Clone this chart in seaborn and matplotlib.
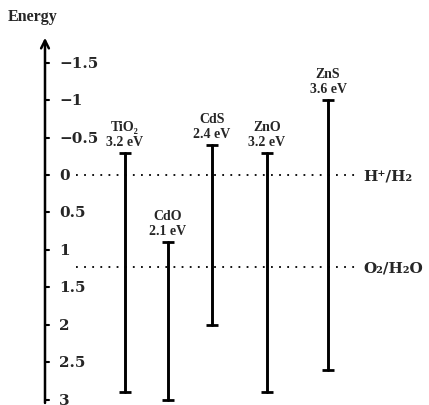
import matplotlib
matplotlib.use("Agg")
import matplotlib.pyplot as plt
import seaborn as sns
import pandas as pd

# Band-edge positions (eV) of common photocatalysts
materials = ["TiO₂", "CdO", "CdS", "ZnO", "ZnS"]
band_gap_labels = ["3.2 eV", "2.1 eV", "2.4 eV", "3.2 eV", "3.6 eV"]
conduction_band = [-0.3, 0.9, -0.4, -0.3, -1.0]
valence_band = [2.9, 3.0, 2.0, 2.9, 2.6]

# Redox potentials of water splitting
redox_names = ["H⁺/H₂", "O₂/H₂O"]
redox_levels = [0.0, 1.23]

energy_ticks = [-1.5, -1, -0.5, 0, 0.5, 1, 1.5, 2, 2.5, 3]
energy_tick_labels = ["−1.5", "−1", "−0.5", "0", "0.5", "1", "1.5", "2", "2.5", "3"]

# Horizontal layout (pixel-like x units)
x_pos = [125, 168, 212, 267, 328]
axis_x = 45

sns.set_theme(style="white")
plt.rcParams["font.family"] = ["Liberation Serif", "DejaVu Serif"]
plt.rcParams["font.weight"] = "bold"
wide_serif = ["DejaVu Serif"]

fig = plt.figure(figsize=(4.29, 4.06), dpi=100)
ax = fig.add_axes([0, 0, 1, 1])
ax.set_xlim(0, 429)
ax.set_ylim(3.067, -2.347)
ax.axis("off")

# Vertical bars spanning each band gap
rows = []
for m, x, cb, vb in zip(materials, x_pos, conduction_band, valence_band):
    rows.append({"material": m, "x": x, "energy": cb})
    rows.append({"material": m, "x": x, "energy": vb})
bands = pd.DataFrame(rows)
sns.lineplot(data=bands, x="x", y="energy", units="material", estimator=None,
             color="black", linewidth=2.1, sort=False, ax=ax, legend=False)
sns.scatterplot(data=bands, x="x", y="energy", marker="_", s=70, color="black",
                linewidth=2.0, ax=ax, legend=False)

for m, g, x, cb in zip(materials, band_gap_labels, x_pos, conduction_band):
    ax.annotate(g, (x, cb), xytext=(0, 5), textcoords="offset pixels",
                ha="center", va="bottom", fontsize=10, fontweight="bold")
    ax.annotate(m, (x, cb), xytext=(0, 20), textcoords="offset pixels",
                ha="center", va="bottom", fontsize=10, fontweight="bold")

# Redox reference levels
for name, lvl in zip(redox_names, redox_levels):
    ax.plot([76, 360], [lvl, lvl], color="black", linewidth=1.3,
            linestyle=(0, (1, 3.5)))
    ax.text(363, lvl, name, ha="left", va="center", fontsize=11,
            fontweight="bold", family=wide_serif)

# Energy axis with arrow
ax.annotate("", xy=(axis_x, -1.83), xytext=(axis_x, 3.04),
            arrowprops=dict(arrowstyle="->", color="black", lw=1.8,
                            mutation_scale=14, shrinkA=0, shrinkB=0))
for t, lab in zip(energy_ticks, energy_tick_labels):
    ax.plot([axis_x, axis_x + 4], [t, t], color="black", linewidth=1.5)
    ax.text(axis_x + 14, t, lab, ha="left", va="center", fontsize=11,
            fontweight="bold", family=wide_serif)
ax.text(8, -2.12, "Energy", ha="left", va="center", fontsize=11.5,
        fontweight="bold")

fig.savefig("out.png", dpi=100, facecolor="white")
